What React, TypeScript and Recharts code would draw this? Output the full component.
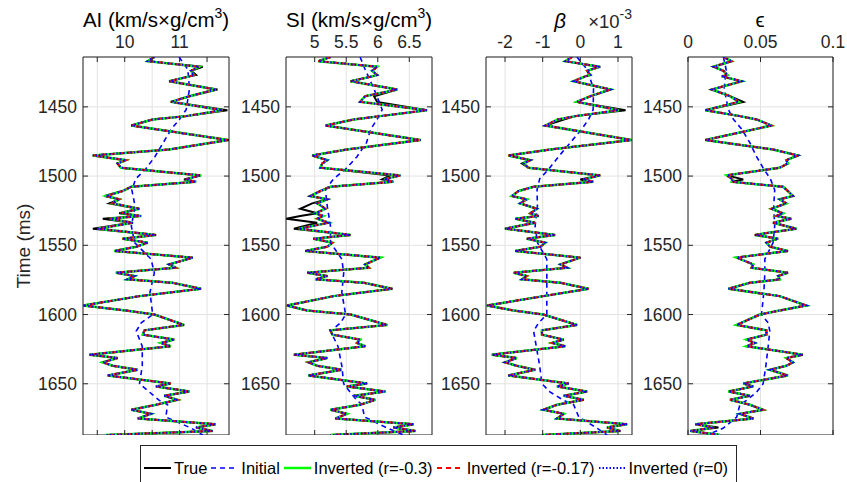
import React from 'react';
import { ComposedChart, Line, XAxis, YAxis, CartesianGrid, ReferenceArea } from 'recharts';

// time samples (ms) of the well-log curves
const TIME = [
  1414, 1417, 1421, 1424, 1427, 1428, 1431.5, 1437.5, 1442.3, 1446.4,
  1452.4, 1456.7, 1459.1, 1463.5, 1474, 1480.8, 1485.1, 1488.5, 1490.9, 1494,
  1499.5, 1502.4, 1504.1, 1507.7, 1510.8, 1514.4, 1516.8, 1519.7, 1523.6, 1526.9,
  1528.8, 1530.8, 1533.7, 1538, 1542.5, 1545.2, 1548.1, 1551, 1554.1, 1558.9,
  1563.8, 1566.2, 1569.8, 1572.2, 1574.6, 1577.1, 1581.4, 1586.7, 1593.5, 1597.1,
  1600, 1607.5, 1611.4, 1614.5, 1618.1, 1620.5, 1622.9, 1629, 1631.4, 1634.5,
  1637, 1639.9, 1644, 1649.8, 1651.9, 1655.6, 1658.7, 1661.6, 1665.2, 1668.8,
  1671.7, 1675.1, 1679.2, 1681.6, 1684.1, 1687,
];

const AI_TRUE = [
  10.54, 10.42, 11.42, 11.21, 11.3, 11.18, 10.81, 11.69, 11.18, 10.84,
  11.87, 11.12, 10.51, 10.12, 11.9, 10.81, 9.42, 10.02, 9.87, 9.93,
  11.39, 11.08, 11.3, 10.12, 9.96, 9.63, 9.9, 9.72, 10.24, 9.9,
  10.27, 9.6, 10.12, 9.42, 10.57, 9.96, 10.42, 10.21, 9.81, 11.24,
  10.81, 10.93, 9.84, 10.18, 10.05, 10.87, 11.39, 10.27, 9.24, 10.02,
  10.54, 11.08, 10.36, 10.33, 10.9, 10.66, 10.84, 9.36, 9.87, 9.6,
  9.78, 10.24, 9.69, 10.84, 10.57, 11.18, 10.72, 10.96, 10.57, 10.12,
  10.48, 10.24, 11.66, 11.3, 11.6, 9.66,
];
const AI_INV = [
  10.54, 10.42, 11.35, 11.21, 11.26, 11.18, 10.81, 11.66, 11.18, 10.84,
  11.78, 11.12, 10.51, 10.12, 11.88, 10.81, 9.42, 10.02, 9.87, 9.93,
  11.39, 11.1, 11.3, 10.12, 9.96, 9.66, 9.9, 9.78, 10.27, 9.93,
  10.3, 9.72, 10.15, 9.51, 10.57, 9.96, 10.42, 10.21, 9.81, 11.24,
  10.81, 10.93, 9.84, 10.18, 10.05, 10.87, 11.39, 10.27, 9.24, 10.02,
  10.54, 11.08, 10.36, 10.33, 10.9, 10.66, 10.84, 9.36, 9.87, 9.6,
  9.78, 10.24, 9.69, 10.84, 10.57, 11.18, 10.72, 10.96, 10.57, 10.12,
  10.48, 10.24, 11.66, 11.3, 11.6, 9.66,
];

const SI_TRUE = [
  5.25, 5.06, 5.99, 5.91, 5.99, 5.91, 5.57, 6.31, 5.94, 5.99,
  6.78, 6.04, 5.62, 5.17, 6.68, 5.51, 4.96, 5.2, 5.12, 5.09,
  6.2, 6.07, 6.25, 5.25, 5.09, 4.93, 5.2, 4.96, 4.77, 5.04,
  4.77, 4.55, 5.04, 4.67, 5.57, 4.98, 5.28, 5.2, 4.85, 6.04,
  5.8, 5.86, 4.88, 5.2, 5.01, 5.78, 6.23, 5.3, 4.56, 4.88,
  5.57, 6.15, 5.25, 5.28, 5.72, 5.67, 5.8, 4.67, 5.2, 4.9,
  5.04, 5.43, 4.9, 5.83, 5.51, 6.12, 5.62, 5.96, 5.72, 5.25,
  5.51, 5.33, 6.57, 6.25, 6.6, 5.25,
];
const SI_INV = [
  5.25, 5.06, 5.99, 5.91, 5.99, 5.91, 5.57, 6.31, 5.8, 5.72,
  6.78, 6.04, 5.62, 5.17, 6.68, 5.51, 4.96, 5.2, 5.12, 5.09,
  6.36, 6.1, 6.25, 5.25, 5.09, 4.93, 5.2, 5.04, 5.17, 5.01,
  5.14, 5.04, 5.22, 4.75, 5.57, 4.98, 5.28, 5.2, 4.85, 6.04,
  5.8, 5.86, 4.88, 5.2, 5.01, 5.78, 6.23, 5.3, 4.56, 4.88,
  5.57, 6.15, 5.25, 5.28, 5.72, 5.67, 5.8, 4.67, 5.2, 4.9,
  5.04, 5.43, 4.9, 5.83, 5.51, 6.12, 5.62, 5.96, 5.72, 5.25,
  5.51, 5.33, 6.57, 6.25, 6.6, 5.25,
];

// beta in units of 1e-3
const BETA_TRUE = [
  -0.22, -0.4, 0.53, 0.18, 0.27, 0.13, -0.18, 0.8, 0.27, -0.09,
  1.2, -0.13, -0.44, -0.93, 1.38, -0.8, -1.91, -1.33, -1.55, -1.38,
  0.53, 0.0, 0.31, -1.24, -1.64, -1.82, -1.42, -1.6, -1.15, -1.33,
  -1.11, -1.73, -1.2, -2.0, -0.67, -1.42, -0.93, -1.06, -1.73, 0.0,
  -0.53, -0.35, -1.77, -1.42, -1.55, -0.53, 0.22, -0.98, -2.48, -1.77,
  -0.98, -0.09, -1.02, -1.02, -0.44, -0.75, -0.4, -2.35, -1.69, -2.0,
  -1.69, -1.2, -1.91, -0.31, -0.62, 0.18, -0.44, 0.09, -0.62, -0.98,
  -0.44, -0.62, 1.24, 0.71, 1.06, -1.02,
];
const BETA_INV = [
  -0.22, -0.4, 0.5, 0.18, 0.27, 0.13, -0.18, 0.8, 0.27, -0.09,
  1.02, -0.13, -0.6, -0.93, 1.36, -0.8, -1.91, -1.33, -1.5, -1.38,
  0.53, 0.08, 0.35, -1.24, -1.64, -1.82, -1.42, -1.6, -1.15, -1.33,
  -1.11, -1.73, -1.2, -2.0, -0.67, -1.42, -0.93, -1.06, -1.73, 0.0,
  -0.53, -0.35, -1.77, -1.42, -1.55, -0.53, 0.22, -0.98, -2.48, -1.77,
  -0.98, -0.09, -1.02, -1.02, -0.44, -0.75, -0.4, -2.35, -1.69, -2.0,
  -1.69, -1.2, -1.91, -0.31, -0.62, 0.18, -0.44, 0.09, -0.62, -0.98,
  -0.44, -0.62, 1.24, 0.71, 1.06, -1.02,
];

const EPS_TRUE = [
  0.0244, 0.0301, 0.0176, 0.0244, 0.0272, 0.0233, 0.037, 0.0164, 0.029, 0.0381,
  0.0119, 0.0358, 0.0473, 0.0575, 0.0119, 0.0587, 0.0758, 0.0678, 0.0689, 0.0632,
  0.0267, 0.0381, 0.0301, 0.0655, 0.0689, 0.0724, 0.0632, 0.0678, 0.0575, 0.0655,
  0.061, 0.0712, 0.0587, 0.0747, 0.0461, 0.0621, 0.0541, 0.0564, 0.0689, 0.0336,
  0.045, 0.0438, 0.0689, 0.0621, 0.0632, 0.0427, 0.0279, 0.0632, 0.0815, 0.0632,
  0.0495, 0.0336, 0.0541, 0.0541, 0.0404, 0.0461, 0.0404, 0.0792, 0.0678, 0.0724,
  0.0678, 0.0564, 0.0689, 0.0381, 0.045, 0.0279, 0.0427, 0.029, 0.0427, 0.0518,
  0.0358, 0.045, 0.005, 0.021, 0.0016, 0.0221,
];
const EPS_INV = [
  0.0244, 0.0301, 0.0176, 0.0244, 0.0272, 0.0233, 0.037, 0.0164, 0.029, 0.035,
  0.0119, 0.0358, 0.0473, 0.0575, 0.0119, 0.0587, 0.0758, 0.0678, 0.0689, 0.0632,
  0.0267, 0.031, 0.0301, 0.0655, 0.0689, 0.0724, 0.0632, 0.0678, 0.0575, 0.0655,
  0.061, 0.0712, 0.0587, 0.0747, 0.0461, 0.0621, 0.0541, 0.0564, 0.0689, 0.0336,
  0.045, 0.0438, 0.0689, 0.0621, 0.0632, 0.0427, 0.0279, 0.0632, 0.0815, 0.0632,
  0.0495, 0.0336, 0.0541, 0.0541, 0.0404, 0.0461, 0.0404, 0.0792, 0.0678, 0.0724,
  0.0678, 0.0564, 0.0689, 0.0381, 0.045, 0.0279, 0.0427, 0.029, 0.0427, 0.0518,
  0.0358, 0.045, 0.005, 0.018, 0.0016, 0.0221,
];

// initial (smooth) models
const INIT_TIME = [
  1414, 1423, 1437, 1452, 1459, 1466, 1476, 1486, 1495, 1502,
  1510, 1522, 1536, 1548, 1560, 1570, 1584, 1600, 1606, 1612,
  1623, 1637, 1650, 1656, 1662, 1665, 1674, 1682, 1687,
];
const AI_INIT = [
  10.99, 11.15, 11.18, 11.12, 11.0, 10.85, 10.7, 10.55, 10.38, 10.2,
  10.13, 10.19, 10.12, 10.18, 10.48, 10.54, 10.46, 10.51, 10.3, 10.21,
  10.32, 10.32, 10.27, 10.45, 10.63, 10.78, 10.75, 11.21, 11.42,
];
const SI_INIT = [
  5.72, 5.8, 5.94, 6.07, 5.99, 5.89, 5.82, 5.67, 5.49, 5.3,
  5.17, 5.2, 5.25, 5.25, 5.43, 5.46, 5.43, 5.49, 5.41, 5.25,
  5.37, 5.43, 5.46, 5.56, 5.67, 5.75, 5.79, 6.15, 6.41,
];
const BETA_INIT = [
  -0.09, 0.18, 0.35, 0.34, 0.22, 0.04, -0.27, -0.58, -0.84, -1.08,
  -1.15, -1.14, -1.2, -1.14, -0.89, -0.89, -0.89, -0.89, -1.11, -1.24,
  -1.17, -1.08, -1.02, -0.8, -0.44, -0.18, -0.04, 0.44, 0.71,
];
const EPS_INIT = [
  0.0244, 0.0263, 0.0249, 0.0279, 0.0313, 0.037, 0.0427, 0.0473, 0.0523, 0.0568,
  0.0598, 0.0591, 0.0598, 0.0587, 0.053, 0.053, 0.0523, 0.0507, 0.0553, 0.0564,
  0.0553, 0.0537, 0.0518, 0.0473, 0.0404, 0.0358, 0.0336, 0.0244, 0.013,
];

const TIME_TICKS = [1450, 1500, 1550, 1600, 1650];
const T_MIN = 1414;
const T_MAX = 1687;

const AI_TICKS = [9.5, 10, 10.5, 11, 11.5];
const AI_TICK_LABELS = ['', '10', '', '11', ''];
const SI_TICKS = [5, 5.5, 6, 6.5];
const SI_TICK_LABELS = ['5', '5.5', '6', '6.5'];
const BETA_TICKS = [-2, -1, 0, 1];
const BETA_TICK_LABELS = ['-2', '-1', '0', '1'];
const EPS_TICKS = [0, 0.05, 0.1];
const EPS_TICK_LABELS = ['0', '0.05', '0.1'];

const SERIES = [
  { key: 'tr', name: 'True', color: '#000000', dash: undefined, width: 2 },
  { key: 'init', name: 'Initial', color: '#0000ff', dash: '5 4', width: 1.6 },
  { key: 'inv', name: 'Inverted (r=-0.3)', color: '#00ff00', dash: undefined, width: 2.5 },
  { key: 'inv', name: 'Inverted (r=-0.17)', color: '#ff0000', dash: '5 4', width: 2 },
  { key: 'inv', name: 'Inverted (r=0)', color: '#0000ff', dash: '1.5 2', width: 2 },
];

const FONT = "'Liberation Sans', Arial, Helvetica, sans-serif";
const INK = '#262626';
const PLOT_TOP = 57;
const PLOT_H = 378;
const YW = 60;
const XH = 30;
const RM = 20;
const X_GAP = 9;
const Y_GAP = 6;
const TICK_LEN = 5;

const PANELS = [
  { left: 83, width: 146, domain: [9.24, 11.9], ticks: AI_TICKS, labels: AI_TICK_LABELS, tr: AI_TRUE, inv: AI_INV, init: AI_INIT },
  { left: 286, width: 146, domain: [4.545, 6.86], ticks: SI_TICKS, labels: SI_TICK_LABELS, tr: SI_TRUE, inv: SI_INV, init: SI_INIT },
  { left: 486, width: 146, domain: [-2.505, 1.372], ticks: BETA_TICKS, labels: BETA_TICK_LABELS, tr: BETA_TRUE, inv: BETA_INV, init: BETA_INIT },
  { left: 688, width: 145, domain: [0, 0.1], ticks: EPS_TICKS, labels: EPS_TICK_LABELS, tr: EPS_TRUE, inv: EPS_INV, init: EPS_INIT },
];

function Panel({ p }: { p: (typeof PANELS)[number] }) {
  const data = TIME.map((t, i) => ({ t, tr: p.tr[i], inv: p.inv[i] }));
  const initData = INIT_TIME.map((t, i) => ({ t, init: p.init[i] }));
  const w = p.width;

  const xTick = (props: any) => {
    const { x, y, payload } = props;
    const i = p.ticks.indexOf(payload.value);
    const top = y + X_GAP;
    return (
      <g>
        <line x1={x} x2={x} y1={top} y2={top + TICK_LEN} stroke={INK} />
        <line x1={x} x2={x} y1={top + PLOT_H} y2={top + PLOT_H - TICK_LEN} stroke={INK} />
        <text x={x} y={y} textAnchor="middle" fill={INK} fontSize={17.5}>
          {p.labels[i]}
        </text>
      </g>
    );
  };

  const yTick = (props: any) => {
    const { x, y, payload } = props;
    const left = x + Y_GAP;
    return (
      <g>
        <line x1={left} x2={left + TICK_LEN} y1={y} y2={y} stroke={INK} />
        <line x1={left + w} x2={left + w - TICK_LEN} y1={y} y2={y} stroke={INK} />
        <text x={x} y={y} dy="0.35em" textAnchor="end" fill={INK} fontSize={17.5}>
          {payload.value}
        </text>
      </g>
    );
  };

  return (
    <div style={{ position: 'absolute', left: p.left - YW, top: PLOT_TOP - XH }}>
      <ComposedChart
        layout="vertical"
        width={YW + w + RM}
        height={XH + PLOT_H}
        data={data}
        margin={{ top: 0, right: RM, bottom: 0, left: 0 }}
      >
        <CartesianGrid stroke="#e3e3e3" />
        <XAxis
          type="number"
          orientation="top"
          domain={p.domain}
          ticks={p.ticks}
          allowDataOverflow
          height={XH}
          tickSize={0}
          tickMargin={X_GAP}
          interval={0}
          axisLine={false}
          tickLine={false}
          tick={xTick}
        />
        <YAxis
          type="number"
          dataKey="t"
          domain={[T_MIN, T_MAX]}
          ticks={TIME_TICKS}
          allowDataOverflow
          width={YW}
          tickSize={0}
          tickMargin={Y_GAP}
          interval={0}
          axisLine={false}
          tickLine={false}
          tick={yTick}
        />
        {SERIES.map((s, i) => (
          <Line
            key={i}
            data={s.key === 'init' ? initData : undefined}
            dataKey={s.key}
            type="linear"
            stroke={s.color}
            strokeWidth={s.width}
            strokeDasharray={s.dash}
            dot={false}
            activeDot={false}
            isAnimationActive={false}
          />
        ))}
        <ReferenceArea
          x1={p.domain[0]}
          x2={p.domain[1]}
          y1={T_MIN}
          y2={T_MAX}
          fill="none"
          stroke={INK}
          strokeWidth={1}
          ifOverflow="visible"
        />
      </ComposedChart>
    </div>
  );
}

function Titles() {
  return (
    <svg
      width={847}
      height={482}
      style={{ position: 'absolute', left: 0, top: 0, pointerEvents: 'none' }}
    >
      <text x={156} y={27} textAnchor="middle" fontSize={20.5} fill="#000">
        AI (km/s×g/cm<tspan dy={-9} fontSize={14}>3</tspan>
        <tspan dy={9}>)</tspan>
      </text>
      <text x={359} y={27} textAnchor="middle" fontSize={20.5} fill="#000">
        SI (km/s×g/cm<tspan dy={-9} fontSize={14}>3</tspan>
        <tspan dy={9}>)</tspan>
      </text>
      <text x={560} y={28} textAnchor="middle" fontSize={20.5} fontStyle="italic" fill="#000">
        β
      </text>
      <text x={632} y={28} textAnchor="end" fontSize={18.5} fill={INK}>
        ×10<tspan dy={-9} fontSize={14}>-3</tspan>
      </text>
      <text x={760} y={27} textAnchor="middle" fontSize={20.5} fill="#000">
        ϵ
      </text>
      <text
        x={25}
        y={246}
        transform="rotate(-90 25 246)"
        textAnchor="middle"
        dominantBaseline="middle"
        fontSize={19}
        fill={INK}
      >
        Time (ms)
      </text>
    </svg>
  );
}

function LegendBox() {
  return (
    <div
      style={{
        position: 'absolute',
        left: 140,
        top: 445,
        height: 46,
        boxSizing: 'border-box',
        border: `1px solid ${INK}`,
        background: '#fff',
        display: 'flex',
        alignItems: 'flex-start',
        paddingTop: 12,
        paddingLeft: 3,
        paddingRight: 4,
        fontSize: 16.5,
        color: '#000',
        whiteSpace: 'nowrap',
      }}
    >
      {SERIES.map((s, i) => (
        <div key={i} style={{ display: 'flex', alignItems: 'center', marginRight: 4 }}>
          <svg width={27} height={20} style={{ marginRight: 3 }}>
            <line
              x1={0}
              x2={27}
              y1={10}
              y2={10}
              stroke={s.color}
              strokeWidth={s.width}
              strokeDasharray={s.dash}
            />
          </svg>
          <span>{s.name}</span>
        </div>
      ))}
    </div>
  );
}

export default function App() {
  return (
    <div
      style={{
        position: 'fixed',
        left: 0,
        top: 0,
        width: 847,
        height: 482,
        overflow: 'hidden',
        background: '#fff',
        fontFamily: FONT,
      }}
    >
      {PANELS.map((p, i) => (
        <Panel key={i} p={p} />
      ))}
      <Titles />
      <LegendBox />
    </div>
  );
}
